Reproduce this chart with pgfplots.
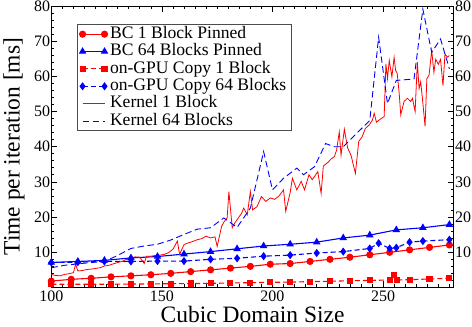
\documentclass[border=0pt]{standalone}
\usepackage{fontspec}
\setmainfont{Liberation Serif}
\usepackage{pgfplots}
\pgfplotsset{compat=1.18}

\pgfplotsset{
  common/.style={
    scale only axis, width=403pt, height=281pt,
    xmin=100, xmax=282, ymin=0, ymax=80,
    xtick={100,150,200,250,300}, minor x tick num=9,
    ytick={0,10,...,80}, yticklabels={,10,20,30,40,50,60,70,80},
    minor y tick num=4,
    major tick length=6pt, minor tick length=3pt,
    tick style={black, line width=0.6pt},
    ticklabel style={font=\fontsize{16}{17}\selectfont},
    /pgf/number format/assume math mode=true,
  },
  mk/.style={line width=1.1pt, mark options={solid}},
}

\begin{document}
\begin{tikzpicture}
\begin{axis}[
  common,
  axis line style={black, line width=0.8pt},
  yticklabel pos=left,
  xtick pos=both, ytick pos=both,
  xticklabel pos=bottom,
  yticklabel style={inner sep=1pt},
  xlabel={Cubic Domain Size},
  ylabel={Time per iteration [ms]},
  label style={font=\fontsize{23.5}{25}\selectfont},
  xlabel style={yshift=2pt},
  ylabel style={yshift=5pt},
  legend style={at={(0.063,0.937)}, anchor=north west,
    draw=black!70, line width=0.8pt, fill=white,
    inner xsep=2.5pt, inner ysep=1pt, row sep=0pt,
    nodes={inner sep=0pt, inner xsep=2.5pt, text height=12.8pt, text depth=4.6pt,
      font=\fontsize{17.6}{18}\selectfont}},
  legend cell align=left,
  legend image code/.code={\draw[#1] plot coordinates {(0pt,0pt) (22pt,0pt)};},
]
% BC 1 Block Pinned
\addplot[red, mk, mark=*, mark size=3pt] coordinates {
  (100,1.7)(109,2.2)(118,2.5)(127,2.9)(136,3.2)(145,3.5)(154,3.9)
  (163,4.4)(172,4.9)(181,5.4)(190,5.9)(199,6.5)(208,6.7)(217,7.3)
  (226,7.9)(235,8.5)(244,9.2)(253,9.9)(262,10.6)(271,11.3)(280,12.0)
};
% BC 64 Blocks Pinned
\addplot[blue, mk, mark=triangle*, mark size=3.3pt] coordinates {
  (100,7.0)(112,7.3)(124,7.6)(136,8.3)(148,8.7)(160,9.4)(172,10.1)
  (184,10.9)(196,11.7)(208,12.2)(220,12.8)(232,14.0)(244,14.8)
  (256,16.3)(268,16.9)(280,17.8)
};
% on-GPU Copy 1 Block
\addplot[red, mk, dash pattern=on 5pt off 3pt, mark=square*, mark size=2.5pt] coordinates {
  (100,0.8)(109,0.8)(118,0.8)(127,0.8)(136,0.85)(145,0.9)(154,0.95)
  (163,1.0)(172,1.05)(181,1.15)(190,1.25)(199,1.35)(208,1.4)(217,1.55)
  (226,1.65)(235,1.8)(244,1.9)(253,2.0)(255,3.5)(256.5,2.0)(262,2.1)
  (271,2.3)(280,2.5)
};
% on-GPU Copy 64 Blocks
\addplot[blue, mk, dash pattern=on 5pt off 3pt, mark=diamond*, mark size=3.2pt] coordinates {
  (100,7.0)(112,7.1)(124,7.3)(136,7.3)(148,7.4)(160,7.4)(172,7.9)
  (184,8.2)(196,8.8)(208,9.1)(220,9.7)(232,10.1)(244,11.0)(248,12.5)
  (253,11.0)(256,11.2)(262,12.8)(268,13.1)(280,13.5)
};
% Kernel 1 Block
\addplot[red, line width=0.8pt] coordinates {
  (100,3.6)(102,3.3)(104,3.2)(106,3.6)(108,3.8)(110,4.1)(111,6.5)(112,4.6)
  (114,4.7)(116,5.0)(118,5.1)(120,5.3)(122,5.5)(124,6.0)(126,6.2)(128,6.6)
  (130,7.0)(132,7.3)(134,7.9)(136,8.4)(138,8.6)(140,8.5)(142,6.7)(143,8.8)
  (145,8.8)(147,9.0)(149,9.1)(151,9.3)(153,9.8)(155,10.8)(157,13.1)(158,9.3)
  (160,12.1)(162,12.6)(164,13.0)(166,13.5)(168,13.8)(170,14.5)(172,14.0)
  (174,14.3)(175,11.6)(177,17.3)(178,18.5)(179.5,19.7)(180.3,27.2)(181.8,16.9)
  (183,18.3)(184,19.2)(186,21.0)(187,22.5)(188.6,20.6)(190,27.2)(191,22.0)
  (193,22.9)(195,25.8)(197,24.4)(199,25.4)(201,25.0)(203,26.0)(205,27.7)
  (206,21.6)(208,26.9)(209,31.0)(211,27.7)(213,30.1)(214.5,27.7)(216.5,32.0)
  (218,30.6)(220.5,32.9)(222,26.7)(223,34.5)(225,35.5)(226.5,36.5)(228,37.2)
  (229,39.0)(230.2,44.2)(231,37.6)(232.5,45.0)(234,39.6)(235.5,37.6)
  (237.5,32.4)(239,41.5)(240.5,42.8)(242,45.2)(243.7,46.2)(245.2,47.6)
  (246,49.5)(247,47.0)(248.2,47.6)(250.5,48.6)(251.3,63.6)(252,59.4)
  (252.8,64.6)(254,59.9)(255,65.5)(255.7,61.7)(256.4,60.9)(257.3,55.2)
  (258,49.1)(259.5,52.9)(261,53.8)(262.5,52.9)(263.3,53.8)(264.5,50.0)
  (265.5,64.1)(266.3,56.6)(267,58.5)(267.8,53.8)(269,45.8)(269.8,59.4)
  (270.8,60.4)(272,67.4)(273,61.2)(273.8,64.9)(275,63.5)(276,64.9)
  (277.1,57.4)(278,66.4)(279.1,65.5)(280,66.0)
};
% Kernel 64 Blocks
\addplot[blue, line width=0.9pt, dash pattern=on 6.5pt off 3.5pt] coordinates {
  (100,5.5)(106,6.2)(112,6.6)(118,7.0)(124,7.3)(130,9.0)(136,11.0)
  (142,11.7)(148,12.2)(154,13.4)(160,15.0)(166,16.5)(172,16.9)(178,19.7)
  (184,17.0)(190,22.5)(196,38.6)(200,27.7)(205,31.0)(211,33.9)(214,32.0)
  (219,34.3)(224,40.9)(228,40.0)(232,40.0)(244,47.5)(248,71.2)(252,52.3)
  (256,58.9)(264,59.3)(268,79.2)(272,66.9)(276,70.7)(280,62.2)
};
\legend{BC 1 Block Pinned, BC 64 Blocks Pinned,
  on-GPU Copy 1 Block, on-GPU Copy 64 Blocks,
  Kernel 1 Block, Kernel 64 Blocks}
\end{axis}
\begin{axis}[
  common,
  hide x axis,
  axis y line*=right,
  y axis line style={draw=none},
  ytick style={draw=none},
  minor y tick num=0,
  yticklabel style={inner sep=1pt},
]
\addplot[draw=none] coordinates {(100,0)};
\end{axis}
\end{tikzpicture}
\end{document}
